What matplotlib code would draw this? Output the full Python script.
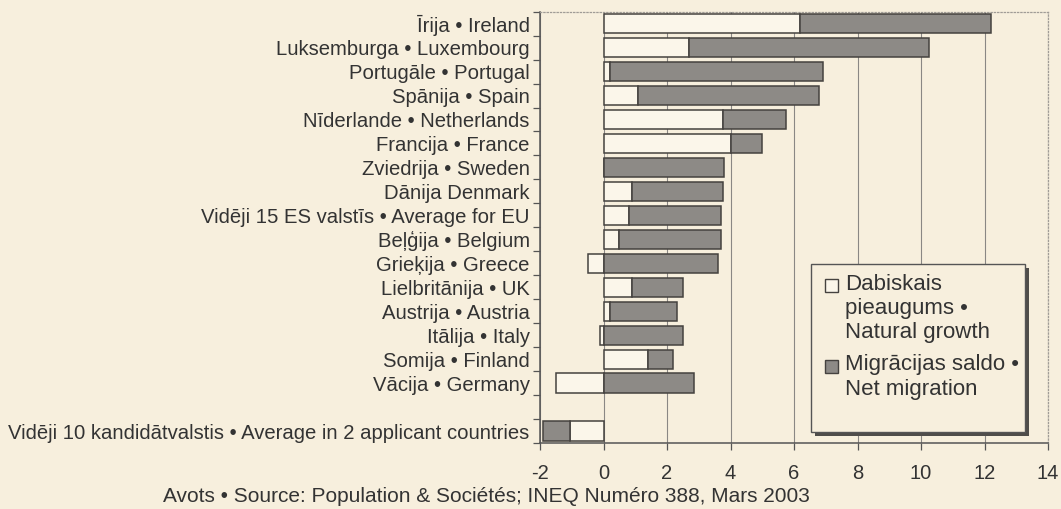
import matplotlib
matplotlib.use('Agg')
import matplotlib.pyplot as plt
import matplotlib.patches as mpatches
import matplotlib.transforms as mtransforms
from matplotlib.legend_handler import HandlerPatch
import numpy as np

plt.rcParams['font.family'] = ['Liberation Sans', 'DejaVu Sans']

# data (per 1000 inhabitants)
COUNTRIES = ['Īrija • Ireland', 'Luksemburga • Luxembourg', 'Portugāle • Portugal',
             'Spānija • Spain', 'Nīderlande • Netherlands', 'Francija • France',
             'Zviedrija • Sweden', 'Dānija Denmark', 'Vidēji 15 ES valstīs • Average for EU',
             'Beļģija • Belgium', 'Grieķija • Greece', 'Lielbritānija • UK',
             'Austrija • Austria', 'Itālija • Italy', 'Somija • Finland',
             'Vācija • Germany', 'Vidēji 10 kandidātvalstis • Average in 2 applicant countries']
NATURAL = [6.2, 2.7, 0.2, 1.1, 3.75, 4.0, 0.0, 0.9, 0.8, 0.5, -0.5, 0.9, 0.2, -0.1, 1.4, -1.5, -1.05]
MIGRATION = [6.0, 7.55, 6.7, 5.7, 2.0, 1.0, 3.8, 2.85, 2.9, 3.2, 3.6, 1.6, 2.1, 2.5, 0.8, 2.85, -0.85]
XTICKS = [-2, 0, 2, 4, 6, 8, 10, 12, 14]
GAP_BEFORE = 16  # empty row before the applicant countries

LEG_NAT = 'Dabiskais\npieaugums •\nNatural growth'
LEG_MIG = 'Migrācijas saldo •\nNet migration'
SOURCE = 'Avots • Source: Population & Sociétés; INEQ Numéro 388, Mars 2003'

BG = '#f7efdd'
LIGHT = '#fbf6ea'
DARK = '#8d8a86'
EDGE = '#45423f'
TXT = '#333333'


def square(legend, orig_handle, xdescent, ydescent, width, height, fontsize):
    # small square sitting at the bottom of the (taller) handle box
    s = 0.6 * fontsize
    return mpatches.Rectangle((-xdescent, -ydescent), s, s)


nat = np.array(NATURAL)
mig = np.array(MIGRATION)
ypos = np.arange(len(COUNTRIES)) + (np.arange(len(COUNTRIES)) >= GAP_BEFORE)
# excel-like stacking: positives on positives, negatives on negatives
mig_left = np.where(mig >= 0, np.maximum(nat, 0), np.minimum(nat, 0))

fig = plt.figure(figsize=(10.61, 5.09), dpi=100, facecolor=BG)
ax = fig.add_axes([0.509, 0.1297, 0.4788, 0.8474], facecolor=BG)

ax.grid(axis='x', color='#8a8784', linewidth=0.8, zorder=0)
ax.barh(ypos, nat, height=0.8, color=LIGHT, edgecolor=EDGE, linewidth=1.1, zorder=3)
ax.barh(ypos, mig, left=mig_left, height=0.8, color=DARK, edgecolor=EDGE,
        linewidth=1.1, zorder=3)

ax.set_xlim(-2, 14)
ax.set_ylim(ypos.max() + 0.5, -0.5)
ax.set_xticks(XTICKS)
ax.set_xticklabels([str(t) for t in XTICKS], fontsize=14.5, color=TXT)
ax.set_yticks(ypos)
ax.set_yticklabels(COUNTRIES, fontsize=14.6, color=TXT)
ax.set_yticks(np.arange(-0.5, ypos.max() + 1, 1), minor=True)
ax.tick_params(axis='y', which='major', length=0, pad=7.5)
ax.tick_params(axis='y', which='minor', length=5, width=0.9, color='#555555', direction='out')
ax.tick_params(axis='x', length=5, width=0.9, color='#555555', direction='out', pad=10)

for side in ['left', 'bottom']:
    ax.spines[side].set_color('#555555')
    ax.spines[side].set_linewidth(1.1)
for side in ['top', 'right']:
    ax.spines[side].set_color('#a09c96')
    ax.spines[side].set_linewidth(0.9)
    ax.spines[side].set_linestyle(':')

# legend frame with drop shadow
box = (0.5335, 0.0255, 0.4213, 0.3895)
offset = mtransforms.ScaledTranslation(3 / 72, -3 / 72, fig.dpi_scale_trans)
ax.add_patch(mpatches.Rectangle(box[:2], box[2], box[3], transform=ax.transAxes + offset,
                                facecolor='#4f4d4a', edgecolor='none', zorder=4.9))
ax.add_patch(mpatches.Rectangle(box[:2], box[2], box[3], transform=ax.transAxes,
                                facecolor=BG, edgecolor='#555555', linewidth=1.0, zorder=5))

handles = [mpatches.Patch(facecolor=LIGHT, edgecolor=EDGE, label=LEG_NAT),
           mpatches.Patch(facecolor=DARK, edgecolor=EDGE, label=LEG_MIG)]
leg = ax.legend(handles=handles, loc='upper left', bbox_to_anchor=(0.561, 0.392),
                handler_map={mpatches.Patch: HandlerPatch(patch_func=square)},
                fontsize=16, frameon=False, handlelength=0.6, handleheight=0.9,
                handletextpad=0.3, borderpad=0, labelspacing=0.5, borderaxespad=0)
leg.set_zorder(6)
for col in leg._legend_handle_box.get_children():
    for row in col.get_children():
        row.align = 'top'
for t in leg.get_texts():
    t.set_color(TXT)

fig.text(0.458, 0.025, SOURCE, ha='center', va='center', fontsize=15, color=TXT)

fig.savefig('out.png', dpi=100, facecolor=BG)
